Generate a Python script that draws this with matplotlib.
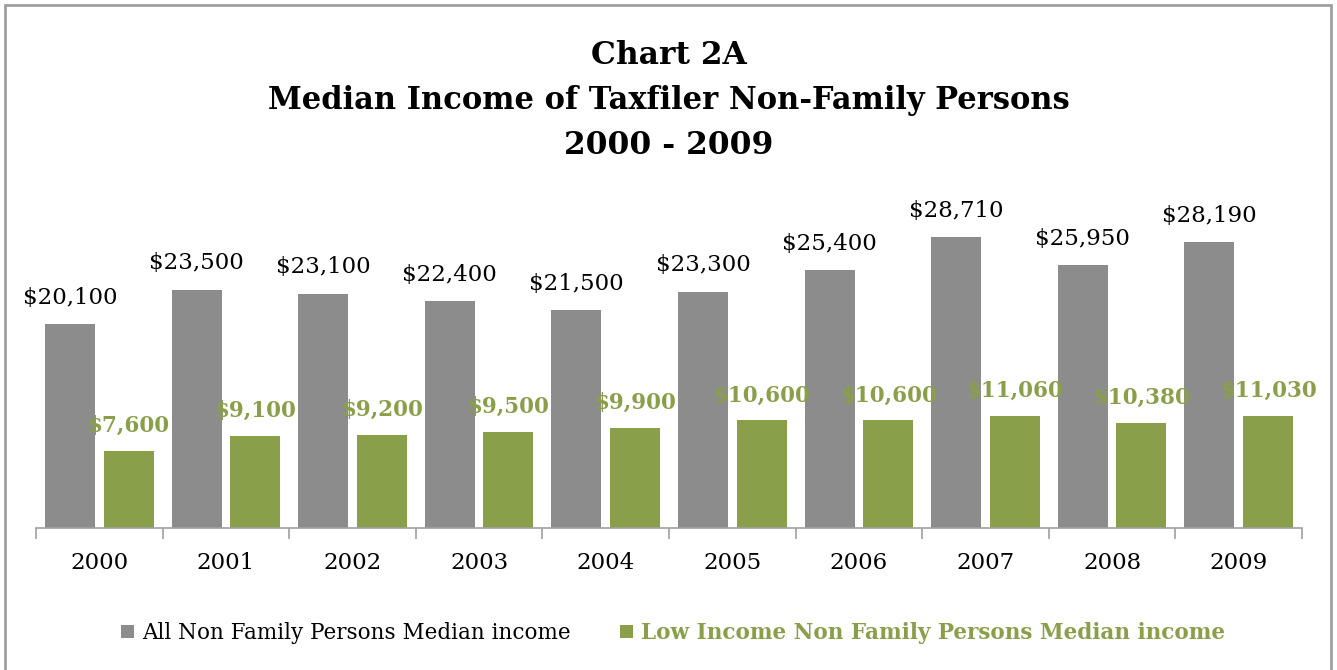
import numpy as np
import matplotlib.pyplot as plt
from matplotlib.patches import Rectangle

years = ["2000", "2001", "2002", "2003", "2004", "2005", "2006", "2007", "2008", "2009"]
all_median = [20100, 23500, 23100, 22400, 21500, 23300, 25400, 28710, 25950, 28190]
low_median = [7600, 9100, 9200, 9500, 9900, 10600, 10600, 11060, 10380, 11030]

GRAY = "#8c8c8c"
GREEN = "#8a9f4a"
FONT = "DejaVu Serif"

plt.rcParams["font.family"] = FONT

fig = plt.figure(figsize=(13.37, 6.70), dpi=100)
ax = fig.add_axes([36 / 1337, 142 / 670, (1302 - 36) / 1337, 355 / 670])

x = np.arange(len(years))
w = 0.395
off = 0.232
ax.bar(x - off, all_median, width=w, color=GRAY, label="All Non Family Persons Median income")
ax.bar(x + off, low_median, width=w, color=GREEN, label="Low Income Non Family Persons Median income")

for xi, v in zip(x, all_median):
    ax.annotate(f"${v:,}", (xi - off, v), xytext=(0, 11), textcoords="offset points",
                ha="center", va="bottom", fontsize=16.5, color="black")
for xi, v in zip(x, low_median):
    ax.annotate(f"${v:,}", (xi + off, v), xytext=(0, 10), textcoords="offset points",
                ha="center", va="bottom", fontsize=15.5, color=GREEN, fontweight="bold")

ax.set_xlim(-0.5, len(years) - 0.5)
ax.set_ylim(0, 35000)
ax.set_yticks([])
ax.set_xticks(x)
ax.set_xticklabels(years, fontsize=16.5)
ax.tick_params(axis="x", which="major", length=0, pad=17)
ax.set_xticks(np.arange(-0.5, len(years)), minor=True)
ax.tick_params(axis="x", which="minor", length=8, color="#a0a0a0", width=1.2)
for s in ["top", "left", "right"]:
    ax.spines[s].set_visible(False)
ax.spines["bottom"].set_color("#a0a0a0")
ax.spines["bottom"].set_linewidth(1.2)

fig.text(0.5, 1 - 55 / 670, "Chart 2A", ha="center", va="center", fontsize=22.5, fontweight="bold")
fig.text(0.5, 1 - 100 / 670, "Median Income of Taxfiler Non-Family Persons", ha="center", va="center",
         fontsize=22, fontweight="bold")
fig.text(0.5, 1 - 145 / 670, "2000 - 2009", ha="center", va="center", fontsize=22.5, fontweight="bold")

leg = fig.legend(loc="center", bbox_to_anchor=(673 / 1337, 1 - 633 / 670), ncol=2, frameon=False,
                 fontsize=15.5, handlelength=0.6, handleheight=0.6, handletextpad=0.35, columnspacing=2.3)
leg.get_texts()[1].set_color(GREEN)
leg.get_texts()[1].set_fontweight("bold")

fig.patches.append(Rectangle((5 / 1337, -0.05), 1326 / 1337, 1.05 - 5 / 670, transform=fig.transFigure,
                             fill=False, edgecolor="#a0a0a0", linewidth=2))

fig.savefig("out.png", dpi=100)
